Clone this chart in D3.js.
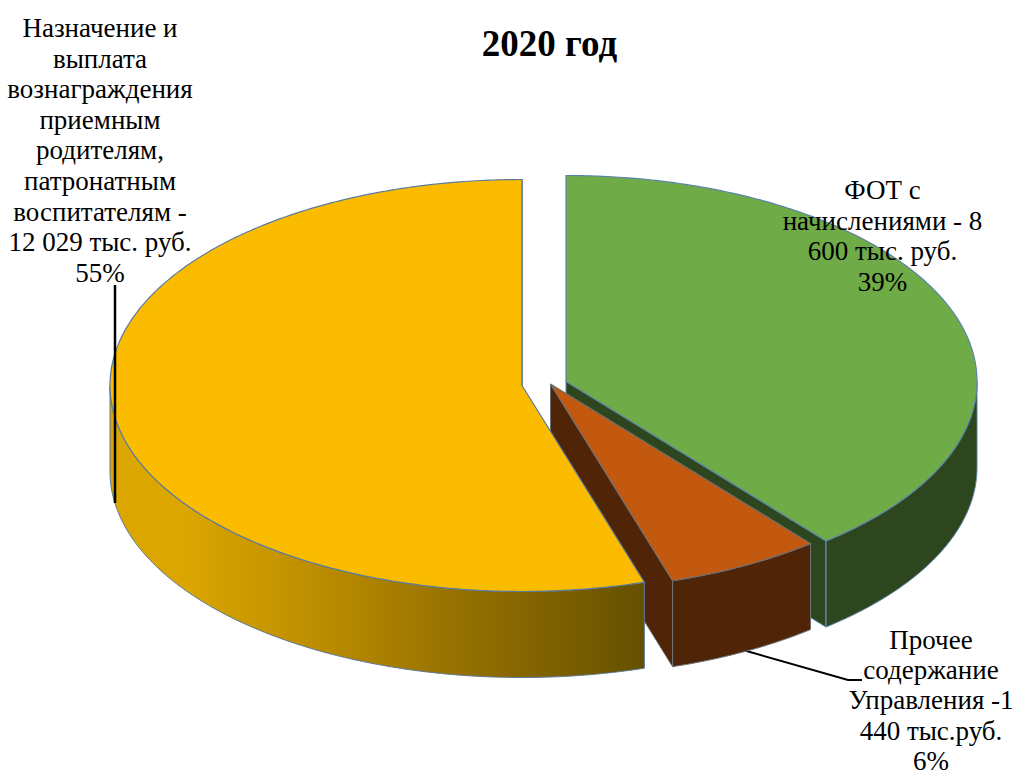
<!DOCTYPE html>
<html>
<head>
<meta charset="utf-8">
<script src="https://cdn.jsdelivr.net/npm/d3@7"></script>
<style>
  html, body { margin: 0; background: #fff; }
  svg { display: block; }
  text { font-family: "Liberation Serif", serif; fill: #000; }
</style>
</head>
<body>
<div id="graphicContainer"></div>
<script>
// shares, clockwise from 12 o'clock
var categories = ["fot", "other", "reward"]
var shares = [39.1, 6.1, 54.8]
var topColors = ["#6fac47", "#c3590f", "#fbbc00"]
var sideColors = ["#2d461d", "#4f2407", "url(#yellowSide)"]
var strokeColors = ["#5b83a8", "#6e7074", "#5b7a9c"]

var titleText = "2020 год"
var labelFot = ["ФОТ с", "начислениями - 8", "600 тыс. руб.", "39%"]
var labelOther = ["Прочее", "содержание", "Управления -1", "440 тыс.руб.", "6%"]
var labelReward = ["Назначение и", "выплата", "вознаграждения", "приемным", "родителям,", "патронатным", "воспитателям -", "12 029 тыс. руб.", "55%"]

var width = 1017
var height = 776
var ry = 206
var depth = 86
var apexes = {
  fot: { x: 566, y: 381.5, rx: 411 },
  other: { x: 550.5, y: 384, rx: 411 },
  reward: { x: 522, y: 385.5, rx: 412 }
}

var svg = d3.select("#graphicContainer").append("svg")
  .attr("width", width)
  .attr("height", height)

var grad = svg.append("defs").append("linearGradient")
  .attr("id", "yellowSide")
  .attr("gradientUnits", "userSpaceOnUse")
  .attr("x1", 110).attr("x2", 645)
  .attr("y1", 0).attr("y2", 0)
grad.append("stop").attr("offset", "14%").attr("stop-color", "#dba600")
grad.append("stop").attr("offset", "34%").attr("stop-color", "#c29200")
grad.append("stop").attr("offset", "62%").attr("stop-color", "#9a7400")
grad.append("stop").attr("offset", "100%").attr("stop-color", "#665000")

var arcs = d3.pie().sort(null).value(d => d)(shares)
var halfPi = Math.PI / 2

// top-of-pie angle (0 = up, clockwise) to screen point
function project(apex, a, drop) {
  return [apex.x + apex.rx * Math.sin(a), apex.y - ry * Math.cos(a) + drop]
}

function rim(apex, a0, a1, drop) {
  var n = Math.max(2, Math.ceil((a1 - a0) / 0.01))
  return d3.range(n + 1).map(i => project(apex, a0 + (a1 - a0) * i / n, drop))
}

var line = d3.line()

function closed(points) {
  return line(points) + "Z"
}

function drawSlice(i) {
  var d = arcs[i]
  var apex = apexes[categories[i]]
  var g = svg.append("g").attr("class", "slice " + categories[i])
  var sideFill = sideColors[i]
  var stroke = strokeColors[i]

  // cut wall, the face that looks down-left towards the viewer
  if (d.startAngle < Math.PI) {
    var p = project(apex, d.endAngle, 0)
    g.append("path")
      .attr("d", closed([[apex.x, apex.y], p, [p[0], p[1] + depth], [apex.x, apex.y + depth]]))
      .style("fill", sideFill)
      .style("stroke", stroke)
      .style("stroke-width", 1)
  }

  // outer wall, only the front half of the ellipse shows
  var a0 = Math.max(d.startAngle, halfPi)
  var a1 = Math.min(d.endAngle, halfPi * 3)
  if (a1 > a0) {
    var upper = rim(apex, a0, a1, 0)
    var lower = rim(apex, a0, a1, depth).reverse()
    g.append("path")
      .attr("d", closed(upper.concat(lower)))
      .style("fill", sideFill)
      .style("stroke", stroke)
      .style("stroke-width", 1)
    // corner edge at the end of the cut
    if (d.endAngle < Math.PI) {
      var q = project(apex, d.endAngle, 0)
      g.append("line")
        .attr("x1", q[0]).attr("y1", q[1])
        .attr("x2", q[0]).attr("y2", q[1] + depth)
        .style("stroke", stroke)
    }
  }

  g.append("path")
    .attr("d", closed([[apex.x, apex.y]].concat(rim(apex, d.startAngle, d.endAngle, 0))))
    .style("fill", topColors[i])
    .style("stroke", stroke)
    .style("stroke-width", 1.2)
}

// the leader of the small slice runs under it
svg.append("path")
  .attr("d", line([[743, 650], [848, 680], [862, 680]]))
  .style("fill", "none")
  .style("stroke", "#000")
  .style("stroke-width", 2)

drawSlice(0)
drawSlice(1)
drawSlice(2)

svg.append("line")
  .attr("x1", 115).attr("y1", 285)
  .attr("x2", 115).attr("y2", 503)
  .style("stroke", "#000")
  .style("stroke-width", 2.5)

function drawLabel(lines, x, firstBaseline, step) {
  svg.append("text")
    .attr("text-anchor", "middle")
    .style("font-size", "27px")
    .selectAll("tspan")
    .data(lines)
    .enter().append("tspan")
    .attr("x", x)
    .attr("y", (d, i) => firstBaseline + i * step)
    .text(d => d)
}

drawLabel(labelReward, 100, 37, 30.6)
drawLabel(labelFot, 882.5, 199, 30.6)
drawLabel(labelOther, 931, 648.5, 30.4)

svg.append("text")
  .attr("x", 549.5)
  .attr("y", 56)
  .attr("text-anchor", "middle")
  .style("font-size", "37px")
  .style("font-weight", "bold")
  .text(titleText)
</script>
</body>
</html>
